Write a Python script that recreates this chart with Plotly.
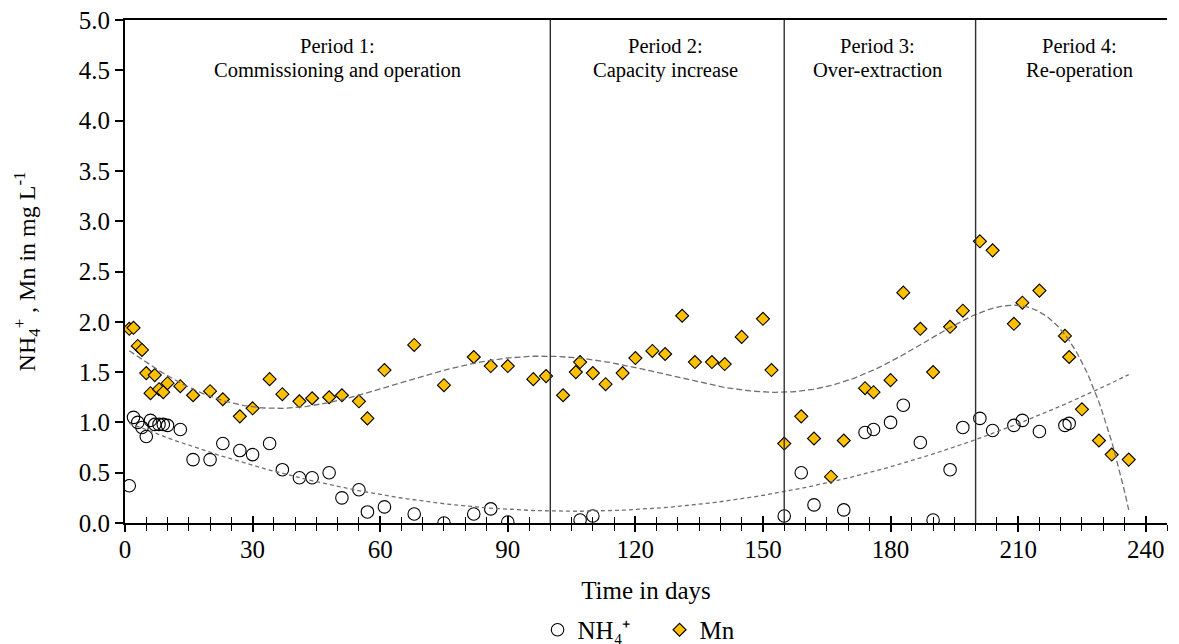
import numpy as np
import plotly.graph_objects as go

# Sampling days and measured concentrations (mg/L)
nh4_days = [1, 2, 3, 4, 5, 6, 7, 8, 9, 10, 13, 16, 20, 23, 27, 30, 34, 37, 41, 44, 48, 51, 55, 57,
            61, 68, 75, 82, 86, 90, 107, 110, 155, 159, 162, 169, 174, 176, 180, 183, 187, 190,
            194, 197, 201, 204, 209, 211, 215, 221, 222]
nh4_vals = [0.37, 1.05, 1.00, 0.95, 0.86, 1.02, 0.98, 0.98, 0.98, 0.97, 0.93, 0.63, 0.63, 0.79,
            0.72, 0.68, 0.79, 0.53, 0.45, 0.45, 0.50, 0.25, 0.33, 0.11, 0.16, 0.09, 0.00, 0.09,
            0.14, 0.01, 0.03, 0.07, 0.07, 0.50, 0.18, 0.13, 0.90, 0.93, 1.00, 1.17, 0.80, 0.03,
            0.53, 0.95, 1.04, 0.92, 0.97, 1.02, 0.91, 0.97, 0.99]

mn_days = [1, 2, 3, 4, 5, 6, 7, 8, 9, 10, 13, 16, 20, 23, 27, 30, 34, 37, 41, 44, 48, 51, 55, 57,
           61, 68, 75, 82, 86, 90, 96, 99, 103, 106, 107, 110, 113, 117, 120, 124, 127, 131, 134,
           138, 141, 145, 150, 152, 155, 159, 162, 166, 169, 174, 176, 180, 183, 187, 190, 194,
           197, 201, 204, 209, 211, 215, 221, 222, 225, 229, 232, 236]
mn_vals = [1.93, 1.94, 1.76, 1.72, 1.49, 1.29, 1.47, 1.33, 1.30, 1.39, 1.36, 1.27, 1.31, 1.23,
           1.06, 1.14, 1.43, 1.28, 1.21, 1.24, 1.25, 1.27, 1.21, 1.04, 1.52, 1.77, 1.37, 1.65,
           1.56, 1.56, 1.43, 1.46, 1.27, 1.50, 1.60, 1.49, 1.38, 1.49, 1.64, 1.71, 1.68, 2.06,
           1.60, 1.60, 1.58, 1.85, 2.03, 1.52, 0.79, 1.06, 0.84, 0.46, 0.82, 1.34, 1.30, 1.42,
           2.29, 1.93, 1.50, 1.95, 2.11, 2.80, 2.71, 1.98, 2.19, 2.31, 1.86, 1.65, 1.13, 0.82,
           0.68, 0.63]

# Operating periods
period_bounds = [100, 155, 200]
period_centers = [50, 127.2, 177, 224.5]
period_titles = ["Period 1:", "Period 2:", "Period 3:", "Period 4:"]
period_names = ["Commissioning and operation", "Capacity increase",
                "Over-extraction", "Re-operation"]

x_ticks = [0, 30, 60, 90, 120, 150, 180, 210, 240]
x_max = 245
y_max = 5.0

FONT = "Liberation Serif, Times New Roman, serif"


def poly_trend(days, vals, deg, x_start, x_end):
    xs = np.linspace(x_start, x_end, 400)
    coef = np.polyfit(np.asarray(days, float) / 100.0, np.asarray(vals, float), deg)
    return xs, np.polyval(coef, xs / 100.0)


nh4_tx, nh4_ty = poly_trend(nh4_days, nh4_vals, 2, 1, 236)
mn_tx, mn_ty = poly_trend(mn_days, mn_vals, 6, 1, 236)

fig = go.Figure()

fig.add_trace(go.Scatter(
    x=nh4_days, y=nh4_vals, mode="markers", name="NH₄⁺",
    marker=dict(symbol="circle-open", size=12.5, color="black", line=dict(width=1.1, color="black")),
))
fig.add_trace(go.Scatter(
    x=mn_days, y=mn_vals, mode="markers", name="Mn",
    marker=dict(symbol="diamond", size=10, color="#FFC000", line=dict(width=1.1, color="black")),
))
fig.add_trace(go.Scatter(
    x=nh4_tx, y=nh4_ty, mode="lines", showlegend=False, hoverinfo="skip",
    line=dict(color="#707070", width=1.3, dash="4px,3px"),
))
fig.add_trace(go.Scatter(
    x=mn_tx, y=mn_ty, mode="lines", showlegend=False, hoverinfo="skip",
    line=dict(color="#707070", width=1.3, dash="6px,3px"),
))
# carrier for the inner half of the x ticks
fig.add_trace(go.Scatter(x=[None], y=[None], xaxis="x2", showlegend=False, hoverinfo="skip"))

for b in period_bounds:
    fig.add_shape(type="line", xref="x", yref="y", x0=b, x1=b, y0=0, y1=y_max,
                  line=dict(color="#303030", width=1.4))

for cx, t1, t2 in zip(period_centers, period_titles, period_names):
    for yy, txt in ((4.738, t1), (4.499, t2)):
        fig.add_annotation(x=cx, y=yy, xref="x", yref="y", text=txt, showarrow=False,
                           font=dict(family=FONT, size=20.5, color="black"),
                           xanchor="center", yanchor="middle", align="center")

fig.update_layout(
    width=1179, height=644,
    margin=dict(l=125, r=12, t=20, b=121, pad=0, autoexpand=False),
    paper_bgcolor="white", plot_bgcolor="white",
    font=dict(family=FONT, size=25, color="black"),
    showlegend=True,
    legend=dict(orientation="h", x=0.513, xanchor="center", y=-0.2127, yanchor="middle",
                font=dict(family=FONT, size=25), itemwidth=30, bgcolor="rgba(0,0,0,0)",
                entrywidth=77, entrywidthmode="pixels"),
    xaxis=dict(
        range=[0, x_max], tickvals=x_ticks, ticks="outside", ticklen=7, tickwidth=2,
        tickcolor="black", showline=True, linecolor="black", linewidth=1.8, mirror=True,
        showgrid=False, zeroline=False, ticklabelstandoff=-4, automargin=False,
        minor=dict(ticks="outside", dtick=5, tick0=0, ticklen=6, tickwidth=1.2, tickcolor="black"),
        title=dict(text="Time in days", font=dict(size=25), standoff=20),
    ),
    xaxis2=dict(
        range=[0, x_max], overlaying="x", anchor="y", side="bottom", tickvals=x_ticks,
        ticks="inside", ticklen=7, tickwidth=2, tickcolor="black", showticklabels=False,
        showline=False, showgrid=False, zeroline=False,
        minor=dict(ticks="inside", dtick=5, tick0=0, ticklen=6, tickwidth=1.2, tickcolor="black"),
    ),
    yaxis=dict(
        range=[0, y_max], dtick=0.5, tickformat=".1f", ticks="outside", ticklen=8, tickwidth=1.5,
        tickcolor="black", showline=True, linecolor="black", linewidth=1.8, showgrid=False,
        zeroline=False, automargin=False,
        title=dict(text="NH<sub>4</sub><sup>+</sup> , Mn in mg L<sup>-1</sup>", font=dict(size=24),
                   standoff=36),
    ),
)

fig.write_html("out.html")
